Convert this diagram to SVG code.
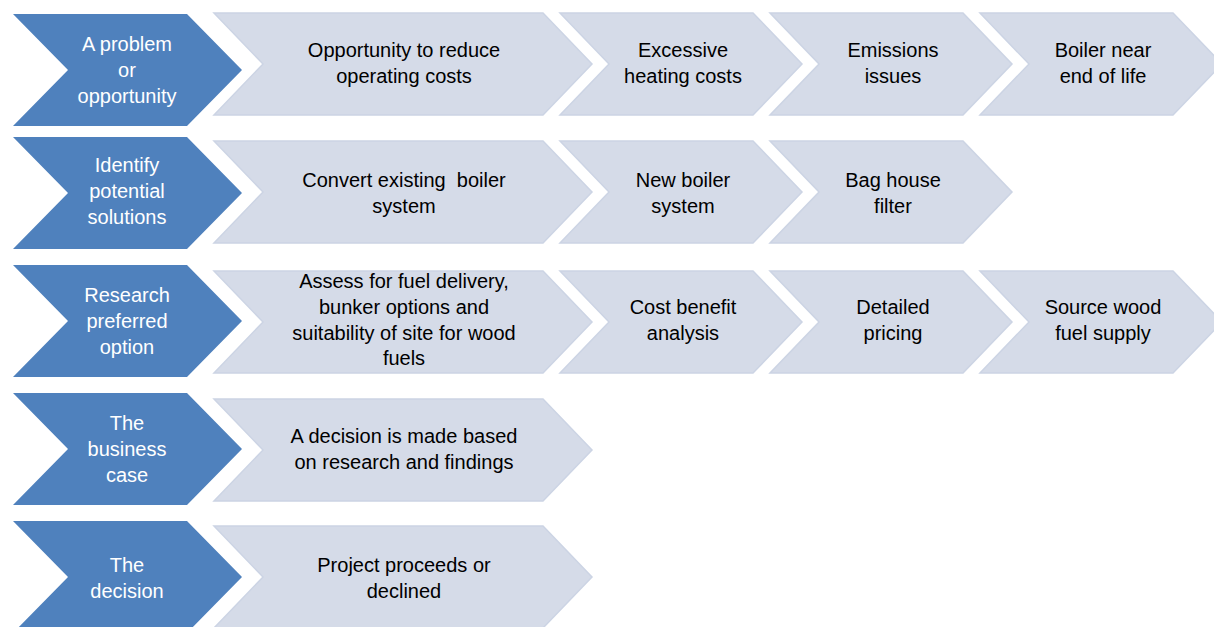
<svg xmlns="http://www.w3.org/2000/svg" width="1214" height="627" viewBox="0 0 1214 627">
<style>
.bg{fill:#ffffff}
.blue{fill:#4f81bd}
.light{fill:#d5dbe8;stroke:#ccd4e4;stroke-width:1.5;stroke-linejoin:miter}
text{font-family:"Liberation Sans",Arial,sans-serif;font-size:20px;text-anchor:middle}
.bt{fill:#ffffff}
.lt{fill:#000000}
</style>
<rect class="bg" x="0" y="0" width="1214" height="627"/>
<g id="row1">
  <g id="n-problem"><path class="blue" d="M13 14 H187 L242 70 L187 126 H13 L68 70 Z"/><text class="bt" x="127" y="51">A problem</text><text class="bt" x="127" y="77">or</text><text class="bt" x="127" y="103">opportunity</text></g>
  <g id="n-opportunity"><path class="light" d="M214 13 H543 L592 64 L543 115 H214 L263 64 Z"/><text class="lt" x="404" y="57">Opportunity to reduce</text><text class="lt" x="404" y="83">operating costs</text></g>
  <g id="n-excessive"><path class="light" d="M560 13 H753 L802 64 L753 115 H560 L609 64 Z"/><text class="lt" x="683" y="57">Excessive</text><text class="lt" x="683" y="83">heating costs</text></g>
  <g id="n-emissions"><path class="light" d="M770 13 H963 L1012 64 L963 115 H770 L819 64 Z"/><text class="lt" x="893" y="57">Emissions</text><text class="lt" x="893" y="83">issues</text></g>
  <g id="n-boiler"><path class="light" d="M980 13 H1173 L1222 64 L1173 115 H980 L1029 64 Z"/><text class="lt" x="1103" y="57">Boiler near</text><text class="lt" x="1103" y="83">end of life</text></g>
</g>
<g id="row2">
  <g id="n-identify"><path class="blue" d="M13 137 H187 L242 193 L187 249 H13 L68 193 Z"/><text class="bt" x="127" y="172">Identify</text><text class="bt" x="127" y="198">potential</text><text class="bt" x="127" y="224">solutions</text></g>
  <g id="n-convert"><path class="light" d="M214 141 H543 L592 192 L543 243 H214 L263 192 Z"/><text class="lt" x="404" y="187" xml:space="preserve">Convert existing  boiler</text><text class="lt" x="404" y="213">system</text></g>
  <g id="n-newboiler"><path class="light" d="M560 141 H753 L802 192 L753 243 H560 L609 192 Z"/><text class="lt" x="683" y="187">New boiler</text><text class="lt" x="683" y="213">system</text></g>
  <g id="n-baghouse"><path class="light" d="M770 141 H963 L1012 192 L963 243 H770 L819 192 Z"/><text class="lt" x="893" y="187">Bag house</text><text class="lt" x="893" y="213">filter</text></g>
</g>
<g id="row3">
  <g id="n-research"><path class="blue" d="M13 265 H187 L242 321 L187 377 H13 L68 321 Z"/><text class="bt" x="127" y="302">Research</text><text class="bt" x="127" y="328">preferred</text><text class="bt" x="127" y="354">option</text></g>
  <g id="n-assess"><path class="light" d="M214 271 H543 L592 322 L543 373 H214 L263 322 Z"/><text class="lt" x="404" y="288">Assess for fuel delivery,</text><text class="lt" x="404" y="314">bunker options and</text><text class="lt" x="404" y="340">suitability of site for wood</text><text class="lt" x="404" y="365">fuels</text></g>
  <g id="n-costbenefit"><path class="light" d="M560 271 H753 L802 322 L753 373 H560 L609 322 Z"/><text class="lt" x="683" y="314">Cost benefit</text><text class="lt" x="683" y="340">analysis</text></g>
  <g id="n-pricing"><path class="light" d="M770 271 H963 L1012 322 L963 373 H770 L819 322 Z"/><text class="lt" x="893" y="314">Detailed</text><text class="lt" x="893" y="340">pricing</text></g>
  <g id="n-source"><path class="light" d="M980 271 H1173 L1222 322 L1173 373 H980 L1029 322 Z"/><text class="lt" x="1103" y="314">Source wood</text><text class="lt" x="1103" y="340">fuel supply</text></g>
</g>
<g id="row4">
  <g id="n-business"><path class="blue" d="M13 393 H187 L242 449 L187 505 H13 L68 449 Z"/><text class="bt" x="127" y="430">The</text><text class="bt" x="127" y="456">business</text><text class="bt" x="127" y="482">case</text></g>
  <g id="n-decisionmade"><path class="light" d="M214 399 H543 L592 450 L543 501 H214 L263 450 Z"/><text class="lt" x="404" y="443">A decision is made based</text><text class="lt" x="404" y="469">on research and findings</text></g>
</g>
<g id="row5">
  <g id="n-decision"><path class="blue" d="M13 521 H187 L242 577 L187 633 H13 L68 577 Z"/><text class="bt" x="127" y="572">The</text><text class="bt" x="127" y="598">decision</text></g>
  <g id="n-proceeds"><path class="light" d="M214 526 H543 L592 577 L543 628 H214 L263 577 Z"/><text class="lt" x="404" y="572">Project proceeds or</text><text class="lt" x="404" y="598">declined</text></g>
</g>
<g id="connectors"></g>
</svg>
